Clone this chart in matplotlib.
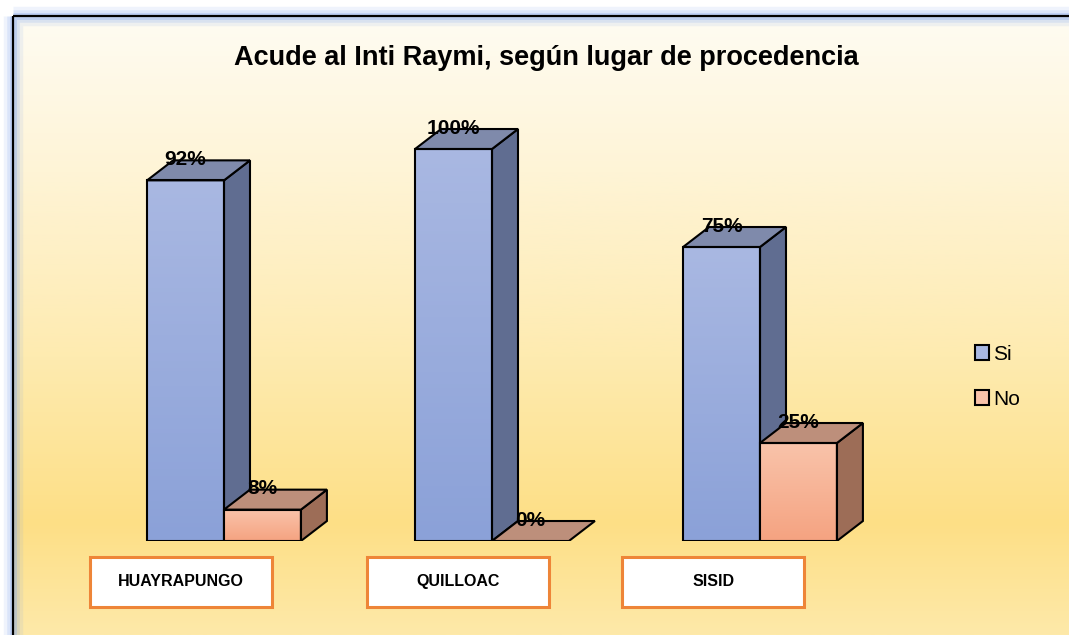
import numpy as np
import matplotlib
matplotlib.use('Agg')
import matplotlib.pyplot as plt
from matplotlib.patches import Polygon, Rectangle, Patch
from matplotlib.colors import LinearSegmentedColormap

# Datos
lugares = ['HUAYRAPUNGO', 'QUILLOAC', 'SISID']
si = [92, 100, 75]
no = [8, 0, 25]
series = ['Si', 'No']
titulo = 'Acude al Inti Raymi, según lugar de procedencia'

plt.rcParams['font.family'] = ['Liberation Sans', 'DejaVu Sans']

fig = plt.figure(figsize=(10.69, 6.35), dpi=100)
W, H = 1069, 635

# Fondo: degradado + borde con brillo azul
bg = fig.add_axes([0, 0, 1, 1])
bg.set_xlim(0, W)
bg.set_ylim(H, 0)
bg.axis('off')
cmap_bg = LinearSegmentedColormap.from_list('bg', [
    (0.0, '#FFFCF2'), (0.25, '#FEF4D6'), (0.55, '#FEEBB0'),
    (0.82, '#FDDF86'), (1.0, '#FEE9A9')])
grad = np.linspace(0, 1, 256).reshape(-1, 1)
bg.imshow(grad, cmap=cmap_bg, extent=[14, W, H, 17], aspect='auto', zorder=0)
for lw, a in [(14, 0.12), (9, 0.18), (5, 0.3)]:
    bg.add_patch(Rectangle((13, 16), W + 20, H + 20, fill=False,
                           edgecolor='#7FA3EE', lw=lw, alpha=a, zorder=1))
bg.add_patch(Rectangle((13, 16), W + 20, H + 20, fill=False,
                       edgecolor='black', lw=1.6, zorder=2))

bg.text(546, 58, titulo, ha='center', va='center', fontsize=19.5,
        fontweight='bold', color='black', zorder=3)

# Ejes de datos (y en %, x por categoria)
ax = fig.add_axes([90 / W, 94 / H, 804 / W, 431.2 / H])
ax.set_xlim(-0.5, 2.5)
ax.set_ylim(0, 110)
ax.axis('off')
ax.patch.set_alpha(0)

bw = 0.287   # ancho de barra
dx = 0.097   # profundidad x
dy = 5.1     # profundidad y
box_off = [-0.160, -0.127, -0.175]  # desplazamiento de las cajas de etiqueta

estilos = {
    'Si': dict(top='#A9B8E2', bot='#8BA1D8', side='#606D91', cap='#7F8AAB'),
    'No': dict(top='#F9C3AA', bot='#F5A381', side='#9D6D57', cap='#BD8F7B'),
}


def barra3d(x0, h, st, z):
    x1 = x0 + bw
    # cara frontal con degradado
    if h > 0:
        cm = LinearSegmentedColormap.from_list('f', [st['bot'], st['top']])
        ax.imshow(np.linspace(0, 1, 100).reshape(-1, 1), cmap=cm, origin='lower',
                  extent=[x0, x1, 0, h], aspect='auto', zorder=z)
        ax.add_patch(Rectangle((x0, 0), bw, h, fill=False, edgecolor='black',
                               lw=1.5, zorder=z + 1))
        # lado
        ax.add_patch(Polygon([(x1, 0), (x1 + dx, dy), (x1 + dx, h + dy), (x1, h)],
                             closed=True, facecolor=st['side'], edgecolor='black',
                             lw=1.5, zorder=z + 0.5))
    # tapa
    ax.add_patch(Polygon([(x0, h), (x1, h), (x1 + dx, h + dy), (x0 + dx, h + dy)],
                         closed=True, facecolor=st['cap'], edgecolor='black',
                         lw=1.5, zorder=z + 0.5))


for i, lugar in enumerate(lugares):
    for j, (s, vals) in enumerate(zip(series, [si, no])):
        x0 = i - bw + j * bw
        barra3d(x0, vals[i], estilos[s], 2 + 2 * j)
        ax.text(x0 + bw / 2, vals[i] + 5.3, f'{vals[i]}%', ha='center', va='center',
                fontsize=15, fontweight='bold', zorder=8)
    # etiqueta de categoria en caja
    cx = i + box_off[i]
    ax.add_patch(Rectangle((cx - 0.34, -16.8), 0.68, 12.8, facecolor='white',
                           edgecolor='#EE8538', lw=2.2, clip_on=False, zorder=6))
    ax.text(cx, -10.4, lugar, ha='center', va='center', fontsize=11.5,
            fontweight='bold', clip_on=False, zorder=7)

# Leyenda
handles = [Patch(facecolor=estilos[s]['top'], edgecolor='black', lw=1.5, label=s)
           for s in series]
fig.legend(handles=handles, loc='center left', bbox_to_anchor=(956 / W, 1 - 377 / H),
           frameon=False, handlelength=0.7, handleheight=0.7,
           handletextpad=0.2, labelspacing=1.25, prop={'size': 15})

fig.savefig('out.png', dpi=100)
